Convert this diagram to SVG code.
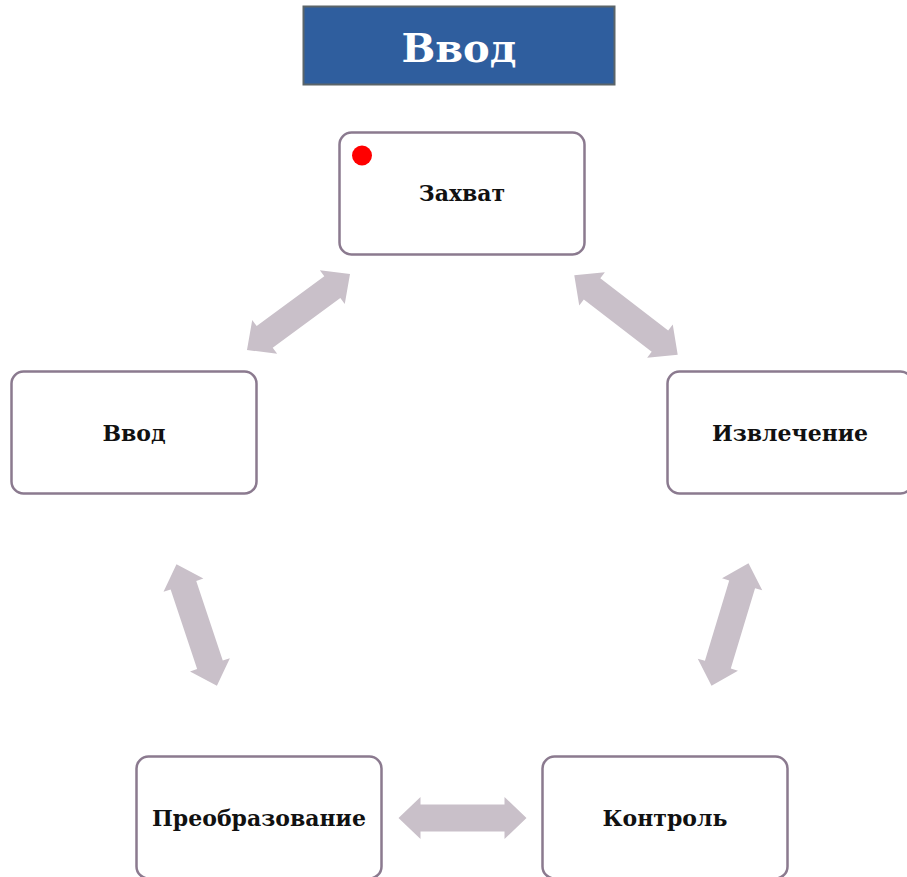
<svg xmlns="http://www.w3.org/2000/svg" width="907" height="877" viewBox="0 0 907 877">
<style>
.box{fill:#ffffff;stroke:#8b7a8f;stroke-width:2.5}
.lbl{font-family:"DejaVu Serif","Liberation Serif",serif;font-weight:bold;font-size:22px;fill:#111111;text-anchor:middle;dominant-baseline:central}
.arr{fill:#c9c0c9}
</style>
<defs>
<path id="dbl" d="M-64,0 L-42,-21 L-42,-13.5 L42,-13.5 L42,-21 L64,0 L42,21 L42,13.5 L-42,13.5 L-42,21 Z"/>
</defs>
<rect width="907" height="877" fill="#ffffff"/>
<g id="title">
<rect x="303.5" y="6.5" width="311" height="78" fill="#2f5e9e" stroke="#5b6469" stroke-width="2"/>
<text x="459" y="47" font-family="DejaVu Serif, Liberation Serif, serif" font-weight="bold" font-size="40" fill="#ffffff" text-anchor="middle" dominant-baseline="central">Ввод</text>
</g>
<g id="connectors" class="arr">
<use href="#dbl" transform="translate(298.5,312) rotate(-36.4)"/>
<use href="#dbl" transform="translate(626,315) rotate(37.6) scale(1.02,1)"/>
<use href="#dbl" transform="translate(196.7,625) rotate(71.6)"/>
<use href="#dbl" transform="translate(730,624.5) rotate(106.8)"/>
<use href="#dbl" transform="translate(462.5,818)"/>
</g>
<g id="node-capture">
<rect class="box" x="339.5" y="132.5" width="245" height="122" rx="12"/>
<circle cx="362" cy="155.5" r="10" fill="#ff0000"/>
<text class="lbl" x="462" y="193">Захват</text>
</g>
<g id="node-input">
<rect class="box" x="11.5" y="371.5" width="245" height="122" rx="12"/>
<text class="lbl" x="134" y="433">Ввод</text>
</g>
<g id="node-extract">
<rect class="box" x="667.5" y="371.5" width="245" height="122" rx="12"/>
<text class="lbl" x="790" y="433">Извлечение</text>
</g>
<g id="node-transform">
<rect class="box" x="136.5" y="756.5" width="245" height="122" rx="12"/>
<text class="lbl" x="259" y="818">Преобразование</text>
</g>
<g id="node-control">
<rect class="box" x="542.5" y="756.5" width="245" height="122" rx="12"/>
<text class="lbl" x="665" y="818">Контроль</text>
</g>
</svg>
